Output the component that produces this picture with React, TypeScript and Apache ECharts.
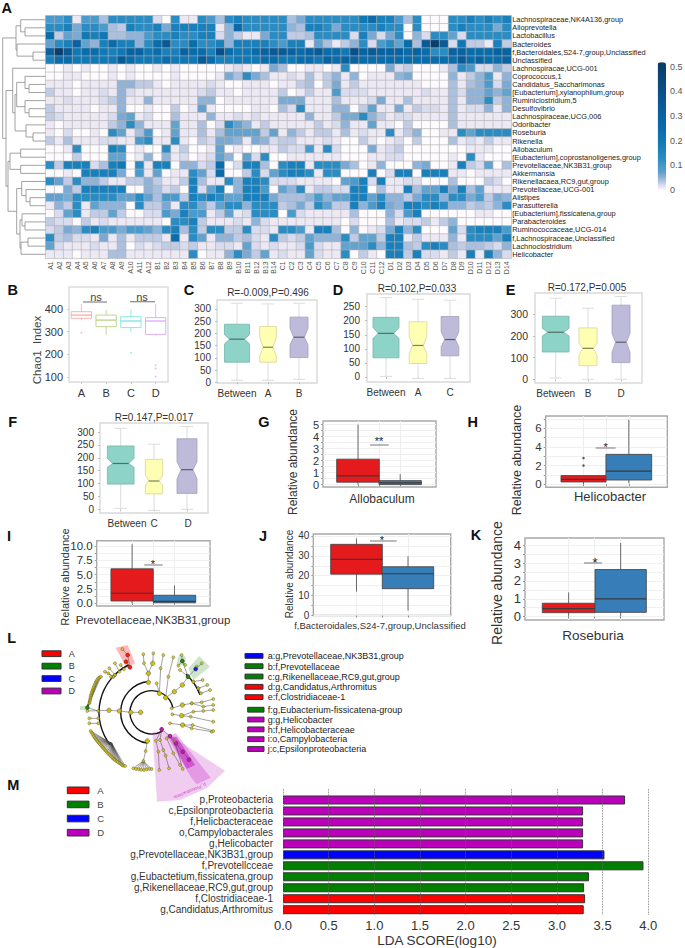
import React, { useEffect, useRef } from "react";
import * as echarts from "echarts";

const FONT = "'Liberation Sans', Arial, Helvetica, sans-serif";

/* ---------- A: heatmap data (relative abundance, in % points) ---------- */
const genera = [
  "Lachnospiraceae,NK4A136,group", "Alloprevotella", "Lactobacillus", "Bacteroides",
  "f,Bacteroidales,S24-7,group,Unclassified", "Unclassified", "Lachnospiracae,UCG-001", "Coprococcus,1",
  "Candidatus_Saccharimonas", "[Eubacterium],xylanophilum,group", "Ruminiclostridium,5", "Desulfovibrio",
  "Lachnospiraceae,UCG,006", "Odoribacter", "Roseburia", "Rikenella", "Allobaculum",
  "[Eubacterium],coprostanoligenes,group", "Prevotellaceae,NK3B31,group", "Akkermansia",
  "Rikenellacaea,RC9,gut,group", "Prevotellaceae,UCG-001", "Alistipes", "Parasutterella",
  "[Eubacterium],fissicatena,group", "Parabacteroides", "Ruminococcaceae,UCG-014",
  "f,Lachnospiraceae,Unclassified", "Lachnoclostridium", "Helicobacter",
];
const samples = [
  "A1","A2","A3","A4","A5","A6","A7","A8","A9","A10","A11","A12",
  "B1","B2","B3","B4","B5","B6","B7","B8","B9","B10","B11","B12","B13","B14",
  "C1","C2","C3","C4","C5","C6","C7","C8","C9","C10","C11","C12",
  "D1","D2","D3","D4","D5","D6","D7","D8","D9","D10","D11","D12","D13","D14",
];
const heatRows: number[][] = [
  [9,9,13,1,9,9,4,13,13,13,13,13,2,0,13,1,1,13,9,4,13,17,13,13,13,13,13,4,6,13,13,13,13,13,13,20,25,17,17,9,4,13,0,0,0,13,13,17,13,17,13,17],
  [13,13,17,6,13,13,9,4,3,17,13,13,17,6,17,17,17,17,17,1,5,25,13,13,13,13,13,5,4,17,17,13,6,13,13,13,13,17,13,13,0,13,0,0,0,13,17,13,13,13,6,13],
  [25,3,7,6,20,17,20,4,4,5,5,9,13,13,17,13,13,17,17,2,5,3,1,1,6,13,13,3,3,4,13,13,13,13,2,17,6,2,6,13,0,5,2,13,13,7,2,13,13,13,13,13],
  [7,13,17,30,7,5,17,25,17,17,5,13,25,35,13,13,25,13,13,17,5,17,17,17,17,13,9,17,17,1,7,4,1,3,5,13,2,9,13,7,25,4,35,50,35,2,20,3,3,1,17,3],
  [30,50,35,20,25,25,20,17,20,30,30,20,25,17,17,30,25,25,17,40,25,20,20,25,30,35,35,30,25,30,35,25,25,20,40,30,35,30,30,30,25,30,25,13,13,30,30,25,25,25,30,30],
  [17,25,25,20,20,20,20,20,35,25,20,20,20,25,20,20,20,35,25,17,17,20,20,20,25,25,20,20,25,25,20,30,25,30,30,25,25,25,25,25,25,25,25,25,25,25,35,25,30,25,25,30],
  [0,0,1,0,1,0,0,1,0,1,0,0,1,0,1,0,0,0,0,0,1,2,1,0,1,6,4,0,0,1,1,0,1,13,0,0,0,0,6,2,3,0,0,0,1,4,13,9,2,2,5,3],
  [0,0,1,1,0,0,0,1,0,1,0,0,0,0,1,0,0,0,0,1,6,4,13,6,4,1,1,2,1,4,1,3,5,1,5,0,1,1,1,5,6,0,0,0,0,5,1,3,5,9,1,5],
  [1,1,1,0,1,1,1,1,5,5,3,3,1,0,1,1,1,1,2,1,0,0,1,1,1,0,1,1,3,4,0,3,6,1,3,1,1,1,1,1,1,1,0,0,0,4,1,4,5,9,2,6],
  [3,1,1,0,1,1,2,1,5,2,1,1,1,1,1,1,1,2,3,1,1,0,1,1,1,1,3,0,1,3,1,1,9,2,2,2,1,1,1,1,1,1,2,1,1,4,2,5,5,7,5,7],
  [1,1,2,1,1,1,2,3,5,1,1,5,1,1,1,1,1,5,5,0,1,1,1,1,1,1,6,6,6,1,1,1,4,1,1,1,2,6,1,1,4,1,1,1,1,4,1,5,5,13,3,5],
  [3,1,1,1,1,0,1,1,5,0,0,1,0,0,3,0,1,7,1,0,0,0,0,1,1,0,4,2,13,1,1,1,5,5,0,3,7,1,1,6,1,3,2,2,1,4,1,2,2,5,1,5],
  [3,2,1,1,1,1,1,2,6,7,1,2,0,0,4,1,1,1,5,1,1,2,1,2,1,1,1,1,1,5,1,1,3,6,6,13,5,3,1,2,2,1,1,1,1,4,1,1,1,1,1,1],
  [1,0,1,1,1,1,1,3,5,13,5,1,1,1,7,1,1,4,0,2,13,7,5,1,3,1,1,1,1,1,3,1,2,5,1,1,7,1,1,0,3,0,0,0,0,4,1,1,1,1,1,1],
  [1,0,2,0,0,1,0,13,7,1,4,9,0,1,7,1,1,4,1,4,7,7,7,7,3,7,1,5,3,1,3,3,1,4,1,2,1,1,13,1,3,5,0,0,1,1,13,7,13,13,13,13],
  [3,1,4,1,1,1,2,2,1,1,9,13,1,1,13,1,0,3,2,6,6,5,1,6,5,2,3,3,1,1,1,2,1,0,0,3,1,0,1,2,0,3,0,0,0,4,1,2,1,3,1,1],
  [0,0,1,13,0,0,0,17,13,0,1,0,0,13,1,3,0,0,1,7,0,1,0,0,1,1,3,2,2,9,1,13,2,0,0,0,6,1,2,3,0,0,0,0,0,0,0,1,1,1,0,0],
  [0,0,0,3,0,0,0,7,7,0,1,5,0,5,1,2,0,1,2,7,5,0,7,2,13,0,0,1,1,1,1,1,1,0,0,0,1,1,2,2,0,0,0,0,0,1,0,13,1,0,0,0],
  [13,3,17,17,17,2,4,17,20,0,13,1,17,17,0,5,5,2,3,25,0,2,17,17,4,0,13,17,17,1,13,13,13,6,4,0,1,5,0,0,0,5,6,0,0,1,17,3,2,7,0,4],
  [0,0,1,0,17,17,17,17,6,0,9,1,7,0,1,1,13,7,2,25,0,0,3,13,2,7,13,17,17,13,1,13,13,0,0,0,17,0,2,17,17,0,17,17,17,1,1,0,1,1,1,1],
  [13,7,3,13,5,5,3,1,1,3,3,5,3,1,1,3,17,4,1,1,13,5,17,17,13,2,2,2,1,1,1,1,0,7,9,17,2,17,1,1,2,2,0,0,0,4,0,0,0,3,2,0],
  [0,0,6,3,17,17,17,17,17,0,0,5,4,2,3,0,17,2,7,17,0,5,17,17,9,0,7,5,13,1,3,3,2,2,17,17,0,4,1,1,17,4,7,7,17,6,17,4,7,1,1,1],
  [7,7,6,13,13,13,13,13,7,7,13,7,4,9,9,3,17,13,17,13,7,7,17,17,17,6,4,4,4,5,9,5,7,7,17,17,7,13,5,5,3,6,13,13,5,13,13,6,9,3,6,5],
  [1,5,3,13,1,7,5,5,5,0,13,3,3,6,1,13,13,6,3,7,13,13,5,13,13,13,3,4,6,3,13,7,3,3,17,5,9,17,6,5,17,17,13,17,13,5,5,3,4,3,5,13],
  [0,2,7,13,1,3,3,7,3,0,0,2,2,9,6,17,9,9,1,3,7,1,2,13,13,13,0,9,2,1,1,1,1,1,4,0,0,0,5,2,9,17,0,0,0,0,0,0,1,1,0,0],
  [3,2,2,0,3,1,2,1,1,1,1,1,1,0,13,13,17,3,1,1,1,2,1,5,2,1,1,1,1,1,1,1,1,0,2,0,0,0,4,1,2,2,3,1,3,5,0,0,0,0,0,0],
  [2,3,6,5,13,17,9,9,6,9,9,7,5,13,17,4,13,3,13,13,3,3,13,2,2,1,13,13,9,1,17,17,4,0,5,0,1,2,6,17,5,13,0,0,0,7,2,13,17,17,17,9],
  [13,3,4,2,2,1,6,1,4,1,3,3,3,1,25,1,13,7,1,5,5,3,4,2,1,13,3,2,3,7,5,5,5,13,3,7,7,3,17,17,1,3,1,1,1,5,1,13,13,13,7,17],
  [7,2,1,1,1,2,1,1,4,0,2,1,2,3,3,2,3,1,1,2,2,1,7,2,1,2,1,1,2,9,2,1,1,7,7,7,13,5,17,17,4,3,13,17,13,4,3,4,4,3,2,5],
  [1,1,1,0,1,1,1,4,4,1,1,1,1,1,1,1,13,0,1,1,5,13,6,3,7,1,2,1,1,7,2,1,1,13,0,3,1,0,17,17,3,17,2,2,1,3,1,17,1,17,5,2],
];

/* row dendrogram: [height, child, child], a plain number is a row */
type Tree = number | [number, Tree, Tree];
const rowTree: Tree = [2.7,
  [16, [20.7, 0, [25, 1, 2]], [17, 3, [33, 4, 5]]],
  [6,
    [12.7, 6, [15, [16.7, [25, 7, [29, 8, 9]], [25, 10, [29, 11, 12]]], [26, 13, [33, 14, 15]]]],
    [8,
      [10, [20.7, 16, 17], [20.7, 18, 19]],
      [16.7,
        [21.7, 20, [26, 21, [30, 22, 23]]],
        [20, [22, 24, [25, 25, 26]], [21, [28, 27, 28], 29]],
      ],
    ],
  ],
];

const colorbarTicks = ["0.5", "0.4", "0.3", "0.2", "0.1", "0"];
const heatColorStops: [number, string][] = [
  [0, "#fdfbfe"], [1, "#ece9f5"], [2, "#d8dcee"], [3, "#c0cce6"], [4, "#abc0df"], [5, "#8fb3d9"],
  [6, "#7aaad4"], [7, "#62a2cf"], [9, "#4a9bcb"], [13, "#2a8cc2"], [17, "#1a80bb"], [20, "#1078b4"],
  [25, "#0a6cab"], [30, "#0a62a0"], [35, "#0a5a96"], [40, "#0a5088"], [52, "#083c68"],
];

/* ---------- B: Chao1 ---------- */
const chaoGroups = ["A", "B", "C", "D"];
/* low, q1, median, q3, high */
const chaoBoxes = [
  [350, 359, 373, 388, 422],
  [285, 322, 351, 373, 396],
  [297, 318, 347, 366, 398],
  [282, 288, 347, 362, 422],
];
const chaoOutliers = [[0, 295], [2, 207], [3, 153], [3, 138], [3, 102]];
const chaoTicks = [100, 200, 300, 400];

/* ---------- C-F: ANOSIM, low, q1, notch low, median, notch high, q3, high ---------- */
const anosimC = [[8, 82, 157, 176, 194, 237, 323], [8, 82, 105, 143, 184, 228, 320], [12, 101, 153, 184, 221, 266, 323]];
const anosimD = [[2, 68, 137, 155, 176, 212, 282], [-6, 48, 83, 112, 143, 196, 276], [-6, 75, 107, 133, 161, 215, 273]];
const anosimE = [[6, 126, 200, 217, 235, 291, 374], [0, 63, 112, 143, 166, 237, 328], [0, 77, 125, 171, 212, 342, 382]];
const anosimF = [[4, 98, 163, 178, 198, 246, 314], [-4, 60, 94, 110, 133, 194, 253], [0, 62, 118, 154, 185, 274, 321]];
const groupsC = ["Between", "A", "B"];
const groupsD = ["Between", "A", "C"];
const groupsE = ["Between", "B", "D"];
const groupsF = ["Between", "C", "D"];
const ticksC = [0, 50, 100, 150, 200, 250, 300];
const ticksD = [0, 50, 100, 150, 200, 250];
const ticksE = [0, 100, 200, 300];

/* ---------- G-K: two groups, low, q1, median, q3, high ---------- */
const allobaculum = [[0, 0.2, 0.73, 2.12, 5.0], [0, 0, 0.14, 0.33, 0.87]];
const helicobacter = [[0, 0.25, 0.53, 0.93, 0.93], [0.1, 0.46, 1.4, 3.2, 6.9]];
const helicobacterOutliers = [2.8, 2.0];
const nk3b31 = [[0, 0.4, 1.75, 6.0, 10.3], [0, 0.1, 0.35, 1.4, 3.1]];
const s24 = [[12, 20.8, 28.2, 35.8, 38.8], [2.5, 13.5, 21, 24.5, 29.8]];
const roseburia = [[0, 0.22, 0.45, 0.75, 1.36], [0, 0.24, 1.0, 2.64, 4.13]];

/* ---------- L: cladogram (drawn on its own value scale) ---------- */
const cladeArcs = [[455, 262, 65, 60, 349], [455, 262, 93, 98, 264], [455, 262, 158, 142, 244], [455, 262, 154, 312, 340]];
const cladeChains: number[][][] = [
  [[422, 262], [392, 262], [358, 258], [327, 256], [262, 258]],
  [[295, 280], [268, 280]], [[295, 295], [268, 295]], [[295, 258], [262, 248]],
  [[442, 348], [437, 378], [430, 408]],
  [[390, 127], [383, 90], [367, 72]], [[390, 127], [378, 110]], [[358, 140], [345, 115]],
  [[345, 150], [328, 130]], [[340, 155], [315, 140]], [[340, 155], [325, 145]], [[345, 150], [333, 155]], [[372, 133], [362, 120]],
  [[445, 172], [445, 145], [458, 115], [460, 85]], [[445, 145], [432, 115], [430, 88]],
  [[478, 205], [470, 175]], [[478, 205], [482, 130], [490, 90]],
  [[497, 218], [505, 155], [520, 97]], [[497, 218], [523, 200], [547, 180], [564, 155]],
  [[564, 155], [547, 108], [545, 90]], [[547, 108], [535, 122]], [[547, 108], [556, 120]], [[564, 155], [540, 135]],
  [[564, 155], [587, 132], [605, 115]], [[587, 132], [590, 125]], [[564, 155], [580, 170], [608, 165]],
  [[580, 170], [595, 190], [622, 180]], [[595, 190], [603, 205], [630, 195]],
  [[515, 250], [547, 240], [575, 235], [605, 232], [640, 222]], [[575, 235], [610, 245], [640, 240]],
  [[517, 268], [545, 272], [572, 275], [640, 290]], [[545, 272], [580, 260], [610, 258], [640, 255]],
  [[510, 295], [548, 300], [575, 310], [635, 320]], [[548, 300], [578, 300], [640, 318]],
  [[485, 313], [510, 333], [528, 355], [548, 380], [567, 404]], [[485, 313], [468, 347], [475, 380], [478, 435]],
  [[485, 313], [480, 345], [490, 375], [497, 392], [507, 430]], [[510, 333], [500, 340], [520, 385], [540, 420]],
  [[528, 355], [525, 350], [548, 432]],
];
const cladeFans: { from: number[]; to: number[][] }[] = [
  { from: [262, 248], to: [[268, 235], [269, 230], [270, 225], [271, 220], [272, 215], [273, 210], [275, 205], [276, 200], [278, 195], [280, 190], [282, 185], [284, 180], [286, 175], [288, 171], [290, 168], [292, 164], [295, 160], [299, 157], [303, 155]] },
  { from: [335, 355], to: [[272, 318], [275, 323], [278, 328], [281, 333], [284, 338], [287, 342], [290, 346], [293, 350], [297, 354], [300, 358], [304, 362], [307, 366], [311, 370], [314, 374], [318, 378], [321, 382], [325, 386], [329, 390], [333, 394], [337, 398], [341, 402], [345, 405], [349, 408], [353, 411], [358, 414], [362, 417], [366, 420], [370, 422], [375, 423]] },
  { from: [430, 408], to: [[400, 430], [408, 432], [416, 433], [424, 434], [432, 435], [440, 433], [448, 432], [455, 432]] },
];
const cladeBigNodes = [[422, 262], [392, 262], [358, 258], [327, 256], [445, 172], [445, 145], [478, 205], [497, 218], [523, 200], [547, 180], [442, 348], [458, 115], [547, 240], [545, 272], [548, 300]];
const cladeColoredNodes: [number, number, number][] = [
  [390, 127, 0], [383, 90, 0], [378, 110, 0], [262, 248, 1], [547, 108, 1], [564, 155, 1], [587, 132, 2],
  [485, 313, 3], [510, 333, 3], [528, 355, 3], [548, 380, 3], [567, 404, 3],
];
const cladeShades: { pts: number[][]; group: number; alpha: number }[] = [
  { pts: [[490, 318], [457, 320], [471, 530], [540, 525], [620, 490], [675, 437]], group: 3, alpha: 0.2 },
  { pts: [[500, 333], [528, 325], [632, 458], [590, 478], [575, 460]], group: 3, alpha: 0.25 },
  { pts: [[508, 335], [530, 335], [585, 420], [560, 432]], group: 3, alpha: 0.45 },
  { pts: [[347, 68], [383, 60], [405, 115], [380, 130]], group: 0, alpha: 0.28 },
  { pts: [[598, 93], [630, 125], [580, 165], [565, 130]], group: 1, alpha: 0.2 },
  { pts: [[537, 88], [558, 95], [555, 122], [530, 118]], group: 1, alpha: 0.2 },
  { pts: [[240, 243], [262, 243], [262, 255], [240, 255]], group: 1, alpha: 0.2 },
];
const lefseGroups = ["A", "B", "C", "D"];
const lefseColors = ["#ff0000", "#008000", "#0000ff", "#bb00bb"];
const cladeKeyTop: [string, number][] = [
  ["a:g,Prevotellaceae,NK3B31,group", 2], ["b:f,Prevotellaceae", 1], ["c:g,Rikenellaceae,RC9,gut,group", 1],
  ["d:g,Candidatus,Arthromitus", 0], ["e:f,Clostridiaceae-1", 0],
];
const cladeKeyBottom: [string, number][] = [
  ["f:g,Eubacterium-fissicatena-group", 1], ["g:g,Helicobacter", 3], ["h:f,Helicobacteraceae", 3],
  ["i:o,Campylobacteria", 3], ["j:c,Epsilonproteobacteria", 3],
];

/* ---------- M: LDA ---------- */
const ldaTaxa = [
  "p,Proteobacteria", "c,Epsilonproteobacteria", "f,Helicbacteraceae", "o,Campylobacterales", "g,Helicobacter",
  "g,Prevotellaceae,NK3B31,group", "f,Prevotellcceae", "g,Eubactetium,fissicatena,group",
  "g,Rikenellaceae,RC9,gut,group", "f,Clostridiaceae-1", "g,Candidatus,Arthromitus",
];
const ldaScores = [3.746, 3.286, 3.286, 3.286, 3.286, 3.52, 3.947, 3.35, 3.297, 3.308, 3.293];
const ldaGroup = [3, 3, 3, 3, 3, 2, 1, 1, 1, 0, 0];

/* ---------- helpers ---------- */
function hexRgb(h: string) {
  return [1, 3, 5].map((i) => parseInt(h.slice(i, i + 2), 16));
}
function buildHeatPalette() {
  const out: string[] = [];
  for (let p = 0; p <= 52; p++) {
    let i = 0;
    while (i < heatColorStops.length - 2 && heatColorStops[i + 1][0] <= p) i++;
    const [a, ca] = heatColorStops[i];
    const [b, cb] = heatColorStops[i + 1];
    const t = Math.min(1, (p - a) / (b - a));
    const ra = hexRgb(ca), rb = hexRgb(cb);
    out.push(`rgb(${ra.map((v, k) => Math.round(v + (rb[k] - v) * t)).join(",")})`);
  }
  return out;
}
function text(x: number, y: number, s: string, o: any = {}) {
  return {
    type: "text", x, y, rotation: o.rotate ? (o.rotate * Math.PI) / 180 : 0, silent: true, z: o.z ?? 20,
    style: {
      text: s, fontFamily: FONT, fontSize: o.size ?? 10, fontWeight: o.weight ?? "normal", fill: o.color ?? "#333",
      textAlign: o.align ?? "center", textVerticalAlign: "middle", align: o.align ?? "center", verticalAlign: "middle",
    },
  };
}
function rule(x1: number, y1: number, x2: number, y2: number, color = "#777", w = 1) {
  return { type: "line", silent: true, z: 20, shape: { x1, y1, x2, y2 }, style: { stroke: color, lineWidth: w } };
}
function swatch(x: number, y: number, w: number, h: number, fill: string) {
  return { type: "rect", silent: true, z: 20, shape: { x, y, width: w, height: h }, style: { fill, stroke: "#333", lineWidth: 1 } };
}

const grids: any[] = [];
const xAxes: any[] = [];
const yAxes: any[] = [];
const seriesList: any[] = [];

function addGrid(g: any, x: any, y: any) {
  grids.push({ containLabel: false, ...g });
  const idx = grids.length - 1;
  xAxes.push({ gridIndex: idx, ...x });
  yAxes.push({ gridIndex: idx, ...y });
  return idx;
}

function boxRenderer(style: any) {
  return (params: any, api: any) => {
    const c = api.value(0), w = api.value(1);
    const low = api.value(2), q1 = api.value(3), nl = api.value(4), med = api.value(5), nh = api.value(6), q3 = api.value(7), high = api.value(8);
    const P = (dx: number, v: number) => api.coord([c + dx, v]);
    const s = style(params.dataIndex);
    const line = (a: number[], b: number[], color: string, lw: number) => ({
      type: "line", shape: { x1: a[0], y1: a[1], x2: b[0], y2: b[1] }, style: { stroke: color, lineWidth: lw },
    });
    const indent = s.notch ? w * 0.2 : 0;
    const h = w / 2;
    const points = s.notch
      ? [P(-h, q1), P(h, q1), P(h, nl), P(h - indent, med), P(h, nh), P(h, q3), P(-h, q3), P(-h, nh), P(-h + indent, med), P(-h, nl)]
      : [P(-h, q1), P(h, q1), P(h, q3), P(-h, q3)];
    const children: any[] = [line(P(0, low), P(0, high), s.whisker, s.whiskerW)];
    if (s.cap) {
      children.push(line(P(-s.cap, low), P(s.cap, low), s.whisker, s.whiskerW));
      children.push(line(P(-s.cap, high), P(s.cap, high), s.whisker, s.whiskerW));
    }
    children.push({ type: "polygon", shape: { points }, style: { fill: s.fill, stroke: s.stroke, lineWidth: s.strokeW } });
    children.push(line(P(-h + indent, med), P(h - indent, med), s.median, s.medianW));
    return { type: "group", children };
  };
}

function boxSeries(grid: number, rows: number[][], centers: number[], widths: number[], style: any) {
  seriesList.push({
    type: "custom", xAxisIndex: grid, yAxisIndex: grid, clip: false, z: 3,
    renderItem: boxRenderer(style),
    encode: { x: 0, y: 5 },
    data: rows.map((r, i) => [centers[i], widths[i], ...r]),
  });
}

const notchFill = ["#8dd3c7", "#ffffb3", "#bebada"];
const notchStroke = ["#79b5aa", "#d6d694", "#a3a0bb"];
const notchMedian = ["#4e6f69", "#7f7f5a", "#5f5d74"];
const notchStyle = (i: number) => ({
  notch: true, fill: notchFill[i], stroke: notchStroke[i], strokeW: 0.8, median: notchMedian[i], medianW: 1.2,
  whisker: "#dcdcdc", whiskerW: 1, cap: 6,
});

function anosimPanel(p: any) {
  const g = addGrid(
    { left: p.left, top: p.top, width: p.w, height: p.h, show: true, borderColor: "#d9d9d9", borderWidth: 1.4, backgroundColor: "#fff" },
    {
      type: "value", min: 0, max: p.w, splitLine: { show: false }, axisLine: { show: false },
      axisTick: { show: true, length: 2, lineStyle: { color: "#bbb" }, customValues: p.centers },
      axisLabel: {
        customValues: p.labelAt ?? p.centers, fontFamily: FONT, fontSize: 10, color: "#333", margin: p.xMargin ?? 5, hideOverlap: false,
        showMinLabel: true, showMaxLabel: true,
        formatter: (v: number) => p.names[(p.labelAt ?? p.centers).indexOf(v)] ?? "",
      },
    },
    {
      type: "value", min: p.yMin, max: p.yMax, splitLine: { show: false }, axisLine: { show: false },
      axisTick: { show: true, length: 2, lineStyle: { color: "#bbb" }, customValues: p.ticks },
      axisLabel: { customValues: p.ticks, fontFamily: FONT, fontSize: p.tickSize ?? 10, color: "#333", margin: p.yMargin ?? 6 },
    }
  );
  boxSeries(g, p.rows, p.centers, p.widths, notchStyle);
}

const redBlueFill = ["#e41a1c", "#377eb8"];
const redBlueStyle = (i: number) => ({
  notch: false, fill: redBlueFill[i], stroke: "#4a4a4a", strokeW: 0.9, median: "#3a3a3a", medianW: 1.2,
  whisker: "#6b6b6b", whiskerW: 1, cap: 0,
});

function abundancePanel(p: any) {
  const gridTicks = [...p.ticks, ...p.minor];
  const mid = (p.centers[0] + p.centers[1]) / 2;
  const g = addGrid(
    { left: p.left, top: p.top, width: p.w, height: p.h, show: true, borderColor: "#a9a9a9", borderWidth: 1.4, backgroundColor: "#fff" },
    {
      type: "value", min: 0, max: p.w, axisLine: { show: false },
      axisLabel: { show: false },
      axisTick: { show: true, length: 2, lineStyle: { color: "#888" }, customValues: [p.centers[0], mid, p.centers[1]] },
      splitLine: { show: true, lineStyle: { color: "#eeeeee", width: 1 } },
    },
    {
      type: "value", min: p.yMin, max: p.yMax, axisLine: { show: false },
      axisTick: { show: true, length: 2, lineStyle: { color: "#999" }, customValues: gridTicks },
      splitLine: { show: true, lineStyle: { color: "#f0f0f0", width: 1 } },
      axisLabel: {
        customValues: p.ticks, fontFamily: FONT, fontSize: p.tickSize, color: "#333", margin: p.yMargin ?? 4,
        formatter: p.fmt,
      },
    }
  );
  /* a plain box has no notch: its notch bounds collapse onto the median */
  const rows = p.rows.map((r: number[]) => [r[0], r[1], r[2], r[2], r[2], r[3], r[4]]);
  boxSeries(g, rows, p.centers, p.widths, redBlueStyle);
  if (p.outliers) {
    seriesList.push({
      type: "scatter", xAxisIndex: g, yAxisIndex: g, symbolSize: 2.5, z: 4, itemStyle: { color: "#333" },
      data: p.outliers.map((v: number) => [p.centers[0], v]),
    });
  }
}

function buildDendrogramSegments() {
  const segs: number[][] = [];
  const leafX = 45.7;
  const walk = (t: Tree): { x: number; y: number } => {
    if (typeof t === "number") return { x: leafX, y: t };
    const a = walk(t[1]);
    const b = walk(t[2]);
    segs.push([t[0], a.y, t[0], b.y]);
    segs.push([t[0], a.y, a.x, a.y]);
    segs.push([t[0], b.y, b.x, b.y]);
    return { x: t[0], y: (a.y + b.y) / 2 };
  };
  walk(rowTree);
  return segs;
}

function buildOption() {
  grids.length = 0; xAxes.length = 0; yAxes.length = 0; seriesList.length = 0;

  /* A heatmap */
  const hm = addGrid(
    { left: 45.7, top: 15.7, width: 465.5, height: 242.6 },
    {
      type: "category", data: samples, axisLine: { show: false }, axisTick: { show: false }, splitLine: { show: false },
      axisLabel: { interval: 0, rotate: 90, fontFamily: FONT, fontSize: 7, color: "#555", margin: 3 },
    },
    {
      type: "category", data: genera, inverse: true, position: "right", axisLine: { show: false }, axisTick: { show: false },
      axisLabel: { interval: 0, fontFamily: FONT, fontSize: 7.4, color: "#222", margin: 1, padding: [0, 0, 3, 0] },
    }
  );
  const heatData: number[][] = [];
  heatRows.forEach((row, r) => row.forEach((v, c) => heatData.push([c, r, v / 100])));
  seriesList.push({
    type: "heatmap", xAxisIndex: hm, yAxisIndex: hm, data: heatData,
    itemStyle: { borderColor: "#b2b2b2", borderWidth: 0.6 }, emphasis: { disabled: true },
  });

  /* dendrogram */
  const dg = addGrid(
    { left: 0, top: 15.7, width: 45.7, height: 242.6 },
    { type: "value", min: 0, max: 45.7, show: false },
    { type: "value", min: -0.5, max: 29.5, inverse: true, show: false }
  );
  seriesList.push({
    type: "custom", xAxisIndex: dg, yAxisIndex: dg, clip: false, encode: { x: 0, y: 1 },
    data: buildDendrogramSegments(),
    renderItem: (_: any, api: any) => {
      const a = api.coord([api.value(0), api.value(1)]);
      const b = api.coord([api.value(2), api.value(3)]);
      return { type: "line", shape: { x1: a[0], y1: a[1], x2: b[0], y2: b[1] }, style: { stroke: "#8a8a8a", lineWidth: 0.8 } };
    },
  });

  /* B */
  const bGrid = addGrid(
    { left: 69, top: 287, width: 99, height: 95, show: true, borderColor: "#dddddd", borderWidth: 1.5 },
    {
      type: "category", data: chaoGroups, axisLine: { show: false }, axisTick: { show: true, length: 2, lineStyle: { color: "#ccc" } , alignWithLabel: true},
      axisLabel: { fontFamily: FONT, fontSize: 11, color: "#333", margin: 5, interval: 0 },
    },
    {
      type: "value", min: 78, max: 497, splitLine: { show: false }, axisLine: { show: false },
      axisTick: { show: true, length: 2, lineStyle: { color: "#ccc" }, customValues: chaoTicks },
      axisLabel: { customValues: chaoTicks, fontFamily: FONT, fontSize: 11, color: "#333", margin: 6 },
    }
  );
  const chaoColors = ["#f8aaa2", "#b9d180", "#7fe3e3", "#dba8f7"];
  seriesList.push({
    type: "custom", xAxisIndex: bGrid, yAxisIndex: bGrid, clip: false, encode: { x: 0, y: 3 },
    data: chaoBoxes.map((b, i) => [i, ...b]),
    renderItem: (params: any, api: any) => {
      const i = api.value(0);
      const bw = api.size([1, 0])[0] * 0.82;
      const col = chaoColors[params.dataIndex];
      const P = (v: number) => api.coord([i, v]);
      const cx = P(0)[0];
      const yv = [1, 2, 3, 4, 5].map((k) => P(api.value(k))[1]);
      const hline = (y: number, lw: number) => ({ type: "line", shape: { x1: cx - bw / 2, y1: y, x2: cx + bw / 2, y2: y }, style: { stroke: col, lineWidth: lw } });
      return {
        type: "group",
        children: [
          { type: "line", shape: { x1: cx, y1: yv[0], x2: cx, y2: yv[4] }, style: { stroke: col, lineWidth: 0.8 } },
          { type: "rect", shape: { x: cx - bw / 2, y: yv[3], width: bw, height: yv[1] - yv[3] }, style: { fill: "#fff", stroke: col, lineWidth: 0.9 } },
          hline(yv[2], 1.3),
        ],
      };
    },
  });
  seriesList.push({
    type: "scatter", xAxisIndex: bGrid, yAxisIndex: bGrid, symbolSize: 1.8, z: 4,
    data: chaoOutliers,
    itemStyle: { color: (p: any) => chaoColors[p.value[0]] },
  });

  /* C-F */
  anosimPanel({ left: 217, top: 300, w: 100, h: 83, yMin: -3, yMax: 336, ticks: ticksC, rows: anosimC, names: groupsC, centers: [20, 51, 82], widths: [25, 16.7, 18], yMargin: 6 });
  anosimPanel({ left: 367, top: 294, w: 103, h: 88, yMin: -18, yMax: 295, ticks: ticksD, rows: anosimD, names: groupsD, centers: [19, 51, 83], widths: [26, 17.7, 17.7], yMargin: 7 });
  anosimPanel({ left: 535, top: 293, w: 107, h: 90, yMin: -17, yMax: 398, ticks: ticksE, rows: anosimE, names: groupsE, centers: [20.7, 53, 86], widths: [26.7, 18, 18], yMargin: 7, tickSize: 10.5 });
  anosimPanel({ left: 100, top: 423, w: 108, h: 90, yMin: -14, yMax: 335, ticks: ticksC, rows: anosimF, names: groupsF, centers: [20.7, 54, 87], widths: [26.7, 17.3, 20], labelAt: [27, 54, 88], yMargin: 6 });

  /* G-K */
  abundancePanel({ left: 323, top: 421, w: 113, h: 66, yMin: -0.2, yMax: 5.3, ticks: [0, 1, 2, 3, 4, 5], minor: [0.5, 1.5, 2.5, 3.5, 4.5], tickSize: 11, rows: allobaculum, centers: [35, 77.2], widths: [42.6, 42.4] });
  abundancePanel({ left: 545.7, top: 416, w: 121.6, h: 71.3, yMin: -0.32, yMax: 7.3, ticks: [0, 2, 4, 6], minor: [1, 3, 5, 7], tickSize: 11.5, rows: helicobacter, centers: [37.8, 83.1], widths: [45, 45.7], outliers: helicobacterOutliers });
  abundancePanel({ left: 96.7, top: 540.7, w: 113.3, h: 65.3, yMin: -0.47, yMax: 10.9, ticks: [0, 2.5, 5, 7.5, 10], minor: [1.25, 3.75, 6.25, 8.75], tickSize: 11.5, rows: nk3b31, centers: [35.4, 77.8], widths: [42.3, 42.4], fmt: (v: number) => v.toFixed(1) });
  abundancePanel({ left: 313.3, top: 534, w: 137.4, h: 81.5, yMin: 0, yMax: 41, ticks: [0, 10, 20, 30, 40], minor: [5, 15, 25, 35], tickSize: 10, rows: s24, centers: [43.2, 94.7], widths: [51.6, 51.4] });
  abundancePanel({ left: 525, top: 538, w: 139, h: 82, yMin: -0.19, yMax: 4.41, ticks: [0, 1, 2, 3, 4], minor: [0.5, 1.5, 2.5, 3.5], tickSize: 13, rows: roseburia, centers: [43.65, 95.65], widths: [52.7, 51.3] });

  /* L cladogram */
  const cl = addGrid(
    { left: 0, top: 625, width: 345, height: 180 },
    { type: "value", min: 0, max: 1035, show: false },
    { type: "value", min: 0, max: 540, inverse: true, show: false }
  );
  const lefseRgb = lefseColors.map(hexRgb);
  seriesList.push({
    type: "custom", xAxisIndex: cl, yAxisIndex: cl, clip: false, z: 1, encode: { x: 0, y: 1 },
    data: cladeShades.map((s, i) => [s.pts[0][0], s.pts[0][1], i]),
    renderItem: (_: any, api: any) => {
      const s = cladeShades[api.value(2)];
      const c = lefseRgb[s.group];
      return {
        type: "polygon", shape: { points: s.pts.map((p) => api.coord(p)) },
        style: { fill: `rgba(${c.join(",")},${s.alpha})`, stroke: "none" },
      };
    },
  });
  seriesList.push({
    type: "custom", xAxisIndex: cl, yAxisIndex: cl, clip: false, z: 2, encode: { x: 0, y: 1 },
    data: cladeArcs,
    renderItem: (_: any, api: any) => {
      const c = api.coord([api.value(0), api.value(1)]);
      const r = api.size([api.value(2), 0])[0];
      return {
        type: "arc",
        shape: { cx: c[0], cy: c[1], r, startAngle: (api.value(3) * Math.PI) / 180, endAngle: (api.value(4) * Math.PI) / 180, clockwise: true },
        style: { stroke: "#111", fill: "none", lineWidth: 1.4 },
      };
    },
  });
  const edges: number[][] = [];
  const nodes: number[][] = [];
  cladeChains.forEach((ch) => ch.forEach((p, i) => {
    nodes.push(p);
    if (i) edges.push([...ch[i - 1], ...p]);
  }));
  cladeFans.forEach((f) => f.to.forEach((p) => { edges.push([...f.from, ...p]); nodes.push(p); }));
  seriesList.push({
    type: "custom", xAxisIndex: cl, yAxisIndex: cl, clip: false, z: 2, encode: { x: 0, y: 1 },
    data: edges,
    renderItem: (_: any, api: any) => {
      const a = api.coord([api.value(0), api.value(1)]);
      const b = api.coord([api.value(2), api.value(3)]);
      return { type: "line", shape: { x1: a[0], y1: a[1], x2: b[0], y2: b[1] }, style: { stroke: "#444", lineWidth: 0.5 } };
    },
  });
  seriesList.push({
    type: "scatter", xAxisIndex: cl, yAxisIndex: cl, z: 3, symbolSize: 3,
    data: nodes, itemStyle: { color: "#d6c400", borderColor: "#444", borderWidth: 0.5 },
  });
  seriesList.push({
    type: "scatter", xAxisIndex: cl, yAxisIndex: cl, z: 4, symbolSize: 4.5,
    data: cladeBigNodes, itemStyle: { color: "#d6c400", borderColor: "#444", borderWidth: 0.5 },
  });
  seriesList.push({
    type: "scatter", xAxisIndex: cl, yAxisIndex: cl, z: 5, symbolSize: 4,
    data: cladeColoredNodes,
    itemStyle: { color: (p: any) => lefseColors[p.value[2]], borderColor: "#333", borderWidth: 0.4 },
  });

  /* M */
  addGrid(
    { left: 283, top: 789, width: 365.3, height: 126.2 },
    {
      type: "value", min: 0, max: 4, interval: 0.5, z: 6, axisLine: { show: false }, axisTick: { show: false },
      splitLine: { show: true, lineStyle: { color: "#666", type: "dotted", width: 0.8 } },
      axisLabel: { fontFamily: FONT, fontSize: 13, color: "#333", margin: 4, formatter: (v: number) => v.toFixed(1) },
    },
    { type: "value", min: 0, max: 1, show: false }
  );
  const lda = addGrid(
    { left: 283, top: 794.5, width: 365.3, height: 120.7 },
    { type: "value", min: 0, max: 4, show: false },
    {
      type: "category", data: ldaTaxa, inverse: true, axisLine: { show: false }, axisTick: { show: false },
      axisLabel: { interval: 0, fontFamily: FONT, fontSize: 10, color: "#333", margin: 10 },
    }
  );
  seriesList.push({
    type: "bar", xAxisIndex: lda, yAxisIndex: lda, barWidth: 9, z: 2,
    data: ldaScores.map((v, i) => ({ value: v, itemStyle: { color: lefseColors[ldaGroup[i]], borderColor: "#333", borderWidth: 1 } })),
  });

  /* annotations */
  const elements: any[] = [];
  const letters: [string, number, number][] = [
    ["A", 6.7, 8], ["B", 12.7, 290], ["C", 189, 290], ["D", 338, 290], ["E", 510.7, 290], ["F", 12.7, 421.7], ["G", 264, 421.7],
    ["H", 472.7, 421.7], ["I", 9, 535.7], ["J", 263, 535.7], ["K", 476, 535], ["L", 11.7, 637.7], ["M", 13.3, 785],
  ];
  letters.forEach(([s, x, y]) => elements.push(text(x, y, s, { size: 14.5, weight: "bold", color: "#111" })));

  colorbarTicks.forEach((s, i) => elements.push(text(670, 66.7 + i * 24.67, s, { align: "left", size: 9, color: "#555" })));

  elements.push(text(37, 350, "Chao1  Index", { rotate: 90, size: 11.5, color: "#444" }));
  elements.push(rule(83, 302, 107, 302, "#888", 1.2), rule(130, 301.7, 155, 301.7, "#888", 1.2));
  elements.push(text(96, 297, "ns", { size: 11, color: "#444" }), text(142, 297, "ns", { size: 11, color: "#444" }));

  elements.push(text(268, 292, "R=-0.009,P=0.496", { size: 10 }));
  elements.push(text(417, 288, "R=0.102,P=0.033", { size: 10 }));
  elements.push(text(587, 287, "R=0.172,P=0.005", { size: 10 }));
  elements.push(text(154, 417, "R=0.147,P=0.017", { size: 10 }));

  const relative = "Relative abundance";
  elements.push(text(293, 462, relative, { rotate: 90, size: 12 }));
  elements.push(text(516.7, 460, relative, { rotate: 90, size: 12.5 }));
  elements.push(text(65, 577, relative, { rotate: 90, size: 11 }));
  elements.push(text(289, 574, relative, { rotate: 90, size: 10 }));
  elements.push(text(496.7, 583, relative, { rotate: 90, size: 14 }));

  elements.push(text(382, 499, "Allobaculum", { size: 12 }));
  elements.push(text(610, 496.7, "Helicobacter", { size: 13 }));
  elements.push(text(153, 620, "Prevotellaceae,NK3B31,group", { size: 11.5 }));
  elements.push(text(380, 625.7, "f,Bacteroidales,S24-7,group,Unclassified", { size: 9.5 }));
  elements.push(text(593, 635.7, "Roseburia", { size: 13.5 }));

  elements.push(rule(370, 445, 388.7, 445), text(379, 441, "**", { size: 11, color: "#222" }));
  elements.push(rule(595.7, 448, 615.7, 448), text(605.7, 447, "*", { size: 11, color: "#222" }));
  elements.push(rule(144.3, 565, 162.7, 565), text(153, 564, "*", { size: 11, color: "#222" }));
  elements.push(rule(370, 541, 396.7, 541), text(382, 540, "*", { size: 11, color: "#222" }));
  elements.push(rule(584, 563, 602, 563), text(595, 562, "*", { size: 13, color: "#222" }));

  lefseGroups.forEach((g, i) => {
    const y = 653.7 + i * 12.43;
    elements.push(swatch(42, y - 2.9, 19, 5.8, lefseColors[i]));
    elements.push(text(71.7, y, g, { size: 9, color: "#333" }));
  });
  cladeKeyTop.forEach(([s, c], i) => {
    const y = 655.9 + i * 10.3;
    elements.push(swatch(245, y - 2.4, 18, 4.8, lefseColors[c]));
    elements.push(text(267.7, y + 0.3, s, { size: 9, align: "left", color: "#222" }));
  });
  cladeKeyBottom.forEach(([s, c], i) => {
    const y = 709.7 + i * 9.83;
    elements.push(swatch(247.7, y - 2.4, 16.3, 4.8, lefseColors[c]));
    elements.push(text(267.7, y + 0.3, s, { size: 9, align: "left", color: "#222" }));
  });
  elements.push(text(190, 791, "p_Proteobacteria", { size: 4.5, rotate: 203, color: "#cc44cc" }));

  lefseGroups.forEach((g, i) => {
    const y = 790.3 + i * 14.13;
    elements.push(swatch(67.3, y - 3.3, 21.7, 6.6, lefseColors[i]));
    elements.push(text(97.3, y, g, { size: 9.5, align: "left", color: "#444" }));
  });
  elements.push(text(437, 940.5, "LDA SCORE(log10)", { size: 13.5 }));

  return {
    animation: false,
    backgroundColor: "#fff",
    textStyle: { fontFamily: FONT },
    tooltip: { show: false },
    visualMap: {
      type: "continuous", seriesIndex: 0, dimension: 2, min: 0, max: 0.52, calculable: false, realtime: false,
      inRange: { color: buildHeatPalette() }, left: 657.7, top: 62.3, itemWidth: 8.3, itemHeight: 127.7,
      orient: "vertical", padding: 0, showLabel: false, text: ["", ""], hoverLink: false,
    },
    grid: grids, xAxis: xAxes, yAxis: yAxes, series: seriesList,
    graphic: { elements },
  };
}

export default function App() {
  const ref = useRef<HTMLDivElement>(null);
  useEffect(() => {
    document.body.style.margin = "0";
    document.documentElement.style.margin = "0";
    const chart = echarts.init(ref.current!, undefined, { renderer: "svg" });
    chart.setOption(buildOption() as any);
    return () => chart.dispose();
  }, []);
  return <div ref={ref} style={{ display: "block", width: 685, height: 948, background: "#fff", overflow: "hidden" }} />;
}
